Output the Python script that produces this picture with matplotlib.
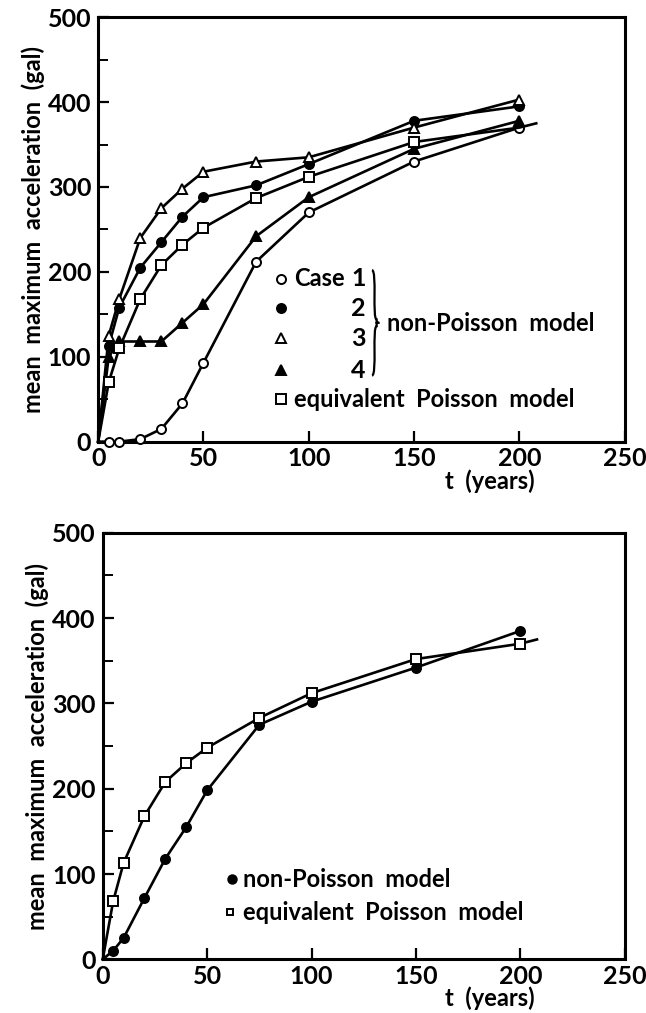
import numpy as np
import matplotlib
matplotlib.use("Agg")
from matplotlib import pyplot as plt
from matplotlib.path import Path
from matplotlib.patches import PathPatch

plt.rcParams['font.family'] = ['Lato', 'DejaVu Sans']
plt.rcParams['font.weight'] = 'bold'

# time axis (years)
t = [0, 5, 10, 20, 30, 40, 50, 75, 100, 150, 200]

# top panel: non-Poisson cases and the equivalent Poisson model
case1 = [0, 0, 0, 3, 15, 45, 93, 212, 270, 330, 370]
case2 = [0, 113, 158, 205, 235, 265, 288, 302, 327, 378, 395]
case3 = [0, 125, 168, 240, 275, 298, 318, 330, 335, 370, 403]
case4 = [0, 100, 118, 118, 118, 140, 162, 242, 288, 345, 378]
t_pois = [0, 5, 10, 20, 30, 40, 50, 75, 100, 150, 200, 208]
pois_top = [0, 70, 110, 168, 208, 232, 252, 287, 312, 353, 370, 375]

# bottom panel
nonpois = [0, 10, 25, 72, 118, 155, 198, 275, 302, 342, 385]
pois_bot = [0, 68, 113, 168, 208, 230, 248, 283, 312, 352, 370, 375]

xticks = [0, 50, 100, 150, 200, 250]
yticks = [0, 100, 200, 300, 400, 500]

fig = plt.figure(figsize=(6.46, 10.13), dpi=100)
ax1 = fig.add_axes([0.152, 0.564, 0.815, 0.419])
ax2 = fig.add_axes([0.159, 0.053, 0.808, 0.421])

lw = 1.9
ms = 6.5
fs = 17


def setup(ax):
    ax.set_xlim(0, 250)
    ax.set_ylim(0, 500)
    ax.set_xticks(xticks)
    ax.set_yticks(yticks)
    ax.set_yticks(np.arange(50, 500, 100), minor=True)
    ax.set_xticks(np.arange(25, 250, 50), minor=True)
    ax.tick_params(which='major', direction='in', length=8, width=1.6,
                   labelsize=18, top=False, right=False)
    ax.tick_params(axis='x', which='major', pad=4)
    ax.tick_params(axis='y', which='major', pad=5)
    ax.tick_params(which='minor', direction='in', length=7, width=1.4,
                   top=False, right=False)
    ax.tick_params(axis='x', which='minor', length=0)
    for s in ax.spines.values():
        s.set_linewidth(2.2)
    ax.set_ylabel('mean  maximum  acceleration  (gal)', fontsize=fs,
                  fontweight='bold', labelpad=2)
    ax.text(207, -0.092 * 500, 't  (years)', fontsize=fs, fontweight='bold',
            ha='right', va='center', clip_on=False)


def curve(ax, x, y, marker, fill, every=None):
    ax.plot(x, y, color='black', lw=lw, marker=marker, ms=ms,
            mfc=fill, mec='black', mew=1.4, markevery=every, clip_on=False,
            zorder=3)


def brace(ax, x, y0, y1, w):
    ym = (y0 + y1) / 2
    verts = [(x, y1), (x + w, y1), (x, ym + 4), (x + w * 0.9, ym + 4),
             (x + w * 0.9, ym), (x + w * 1.4, ym),
             (x + w * 0.9, ym), (x + w * 0.9, ym - 4),
             (x, ym - 4), (x + w, y0), (x, y0)]
    codes = [Path.MOVETO, Path.CURVE4, Path.CURVE4, Path.CURVE4,
             Path.LINETO, Path.LINETO, Path.LINETO, Path.LINETO,
             Path.CURVE4, Path.CURVE4, Path.CURVE4]
    ax.add_patch(PathPatch(Path(verts, codes), fill=False, lw=1.6,
                           ec='black'))


# top panel
setup(ax1)
curve(ax1, t, case1, 'o', 'white', slice(1, None))
curve(ax1, t, case2, 'o', 'black', slice(1, None))
curve(ax1, t, case3, '^', 'white', slice(1, None))
curve(ax1, t, case4, '^', 'black', slice(1, None))
curve(ax1, t_pois, pois_top, 's', 'white', slice(1, 10))

legend_rows = [('o', 'white', '1', 192), ('o', 'black', '2', 157),
               ('^', 'white', '3', 122), ('^', 'black', '4', 84)]
for mk, fill, lab, yy in legend_rows:
    ax1.plot([87], [yy], marker=mk, ms=ms, mfc=fill, mec='black',
             mew=1.4, color='black', ls='none')
    ax1.text(127, yy, lab, fontsize=fs + 1, ha='right', va='center')
ax1.text(93, 192, 'Case', fontsize=fs, va='center')
ax1.plot([87], [50], marker='s', ms=ms, mfc='white', mec='black', mew=1.4,
         ls='none')
ax1.text(93, 50, 'equivalent  Poisson  model', fontsize=fs, va='center')
brace(ax1, 130, 78, 202, 2.5)
ax1.text(137, 139, 'non-Poisson  model', fontsize=fs, va='center')

# bottom panel
setup(ax2)
curve(ax2, t, nonpois, 'o', 'black', slice(1, None))
curve(ax2, t_pois, pois_bot, 's', 'white', slice(1, 11))
ax2.plot([62], [94], marker='o', ms=ms, mfc='black', mec='black',
         ls='none')
ax2.text(67, 94, 'non-Poisson  model', fontsize=fs, va='center')
ax2.plot([61], [55], marker='s', ms=5, mfc='white', mec='black', mew=1.4,
         ls='none')
ax2.text(67, 55, 'equivalent  Poisson  model', fontsize=fs, va='center')

fig.savefig('out.png', dpi=100)
